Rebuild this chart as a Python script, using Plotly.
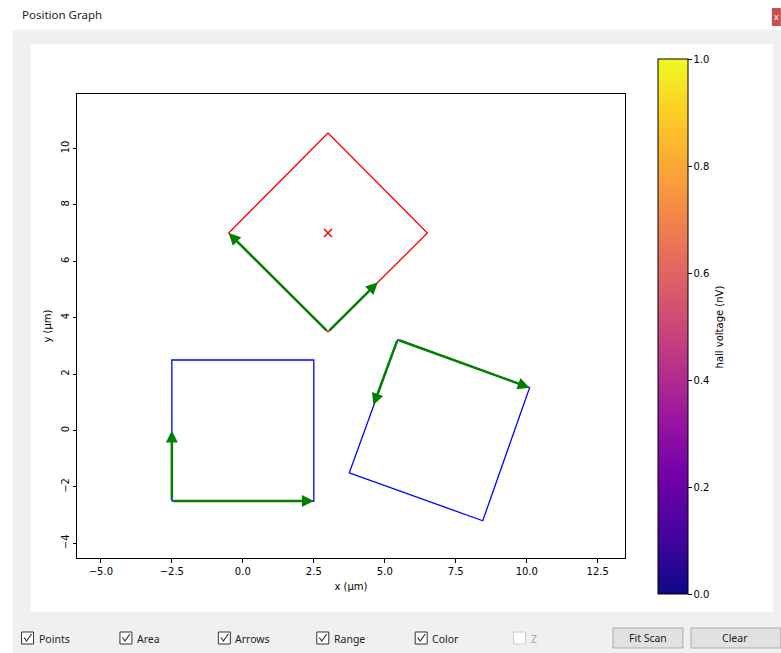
import plotly.graph_objects as go

# ---------------- data ----------------
diamond_x = [3.0, 6.5, 3.0, -0.5, 3.0]
diamond_y = [10.55, 7.0, 3.5, 7.0, 10.55]

square1_x = [-2.5, 2.5, 2.5, -2.5, -2.5]
square1_y = [-2.5, -2.5, 2.5, 2.5, -2.5]

square2_x = [5.45, 10.1, 8.45, 3.75, 5.45]
square2_y = [3.22, 1.52, -3.2, -1.5, 3.22]

center_x = [3.0]
center_y = [7.0]

arrow_tail_x = [3.0, 3.0, -2.5, -2.5, 5.45, 5.45]
arrow_tail_y = [3.5, 3.5, -2.5, -2.5, 3.22, 3.22]
arrow_tip_x = [-0.5, 4.75, 2.5, -2.5, 10.1, 4.6]
arrow_tip_y = [7.0, 5.25, -2.5, 0.0, 1.52, 0.9]

x_ticks = [-5.0, -2.5, 0.0, 2.5, 5.0, 7.5, 10.0, 12.5]
y_ticks = [-4, -2, 0, 2, 4, 6, 8, 10]
cbar_ticks = [0.0, 0.2, 0.4, 0.6, 0.8, 1.0]
cbar_title = "hall voltage (nV)"

checkbox_labels = ["Points", "Area", "Arrows", "Range", "Color", "Z"]
checkbox_checked = [True, True, True, True, True, False]
button_labels = ["Fit Scan", "Clear"]

# ---------------- layout helpers (pixel -> paper) ----------------
FW, FH = 781, 653
L, R, T, B = 76.5, 625.0, 94.0, 558.0
W, H = R - L, B - T


def px(x):
    return (x - L) / W


def py(y):
    return (B - y) / H


fig = go.Figure()

line_w = 1.3
fig.add_trace(go.Scatter(x=diamond_x, y=diamond_y, mode="lines",
                         line=dict(color="red", width=line_w), hoverinfo="skip"))
fig.add_trace(go.Scatter(x=square1_x, y=square1_y, mode="lines",
                         line=dict(color="blue", width=line_w), hoverinfo="skip"))
fig.add_trace(go.Scatter(x=square2_x, y=square2_y, mode="lines",
                         line=dict(color="blue", width=line_w), hoverinfo="skip"))
fig.add_trace(go.Scatter(x=center_x, y=center_y, mode="markers",
                         marker=dict(symbol="x-thin", size=8, color="red",
                                     line=dict(color="red", width=1.5)),
                         hoverinfo="skip"))

# colorbar carrier
fig.add_trace(go.Scatter(
    x=[None], y=[None], mode="markers", hoverinfo="skip",
    marker=dict(color=[0.0], cmin=0, cmax=1, colorscale="Plasma", showscale=True,
                colorbar=dict(
                    x=px(658), xanchor="left", xpad=0,
                    y=py(326.5), yanchor="middle", ypad=0,
                    len=535, lenmode="pixels", thickness=30,
                    outlinewidth=1, outlinecolor="black",
                    ticks="outside", ticklen=3.5, tickcolor="black", tickwidth=1,
                    tickvals=cbar_ticks, tickformat=".1f",
                    tickfont=dict(family="DejaVu Sans", size=10, color="black"),
                ))))

annotations = []
for tx, ty, hx, hy in zip(arrow_tail_x, arrow_tail_y, arrow_tip_x, arrow_tip_y):
    annotations.append(dict(x=hx, y=hy, ax=tx, ay=ty, xref="x", yref="y",
                            axref="x", ayref="y", text="", showarrow=True,
                            arrowhead=2, arrowsize=0.95, arrowwidth=2.5,
                            arrowcolor="green", standoff=0, startstandoff=0))

# colorbar title, rotated
annotations.append(dict(x=px(720), y=py(326.5), xref="paper", yref="paper",
                        xanchor="center", yanchor="middle", text=cbar_title,
                        textangle=-90, showarrow=False,
                        font=dict(family="DejaVu Sans", size=10, color="black")))


def label(x, y, text, size=10.5, color="#222222", xanchor="left"):
    annotations.append(dict(x=px(x), y=py(y), xref="paper", yref="paper",
                            xanchor=xanchor, yanchor="middle", text=text,
                            showarrow=False,
                            font=dict(family="Noto Sans", size=size, color=color)))


shapes = []
# window decorations
shapes.append(dict(type="rect", xref="paper", yref="paper", layer="below",
                   x0=px(12), x1=px(FW), y0=py(29.5), y1=py(FH),
                   fillcolor="#f0f0f0", line=dict(width=0)))
shapes.append(dict(type="rect", xref="paper", yref="paper", layer="below",
                   x0=px(30), x1=px(773), y0=py(44), y1=py(612),
                   fillcolor="white", line=dict(width=0)))
shapes.append(dict(type="rect", xref="paper", yref="paper",
                   x0=px(772), x1=px(FW), y0=py(8), y1=py(26),
                   fillcolor="#c75050", line=dict(width=0)))
label(776.5, 16.5, "x", size=9, color="white", xanchor="center")
label(19, 15, "Position Graph", size=11.5)

# checkboxes
cb_x = [21, 119.5, 218, 316.5, 415, 513.5]
for cx, lab, chk in zip(cb_x, checkbox_labels, checkbox_checked):
    bc = "#333333" if chk else "#cccccc"
    shapes.append(dict(type="rect", xref="paper", yref="paper",
                       x0=px(cx), x1=px(cx + 12), y0=py(632), y1=py(644),
                       fillcolor="white", line=dict(color=bc, width=1)))
    if chk:
        shapes.append(dict(type="path", xref="paper", yref="paper",
                           path=f"M {px(cx + 2.5)} {py(637.5)} L {px(cx + 5)} {py(641)} L {px(cx + 10)} {py(634)}",
                           line=dict(color="#333333", width=1.2)))
    label(cx + 15, 638.5, lab, color="#222222" if chk else "#aaaaaa")

# buttons
btn_x = [(613, 683), (691, 781)]
for (bx0, bx1), lab in zip(btn_x, button_labels):
    shapes.append(dict(type="rect", xref="paper", yref="paper",
                       x0=px(bx0), x1=px(bx1), y0=py(628), y1=py(648),
                       fillcolor="#e1e1e1", line=dict(color="#adadad", width=1)))
    label((bx0 + min(bx1, 780)) / 2, 638, lab, xanchor="center")

axis_font = dict(family="DejaVu Sans", size=10, color="black")
fig.update_layout(
    width=FW, height=FH,
    margin=dict(l=L, r=FW - R, t=T, b=FH - B, pad=0),
    paper_bgcolor="white", plot_bgcolor="white",
    showlegend=False,
    shapes=shapes, annotations=annotations,
    xaxis=dict(range=[-5.84, 13.46], tickvals=x_ticks, tickformat=".1f",
               showgrid=False, zeroline=False, showline=True, mirror=True,
               linecolor="black", linewidth=1, ticks="outside", ticklen=3.5,
               tickcolor="black", tickfont=axis_font,
               title=dict(text="x (µm)", font=axis_font, standoff=7)),
    yaxis=dict(range=[-4.52, 11.93], tickvals=y_ticks, tickangle=-90,
               showgrid=False, zeroline=False, showline=True, mirror=True,
               linecolor="black", linewidth=1, ticks="outside", ticklen=3.5,
               tickcolor="black", tickfont=axis_font,
               title=dict(text="y (µm)", font=axis_font, standoff=6)),
)

fig.write_html("out.html", config={"displayModeBar": False},
               post_script="document.body.style.margin='0px';document.body.style.overflow='hidden';")
